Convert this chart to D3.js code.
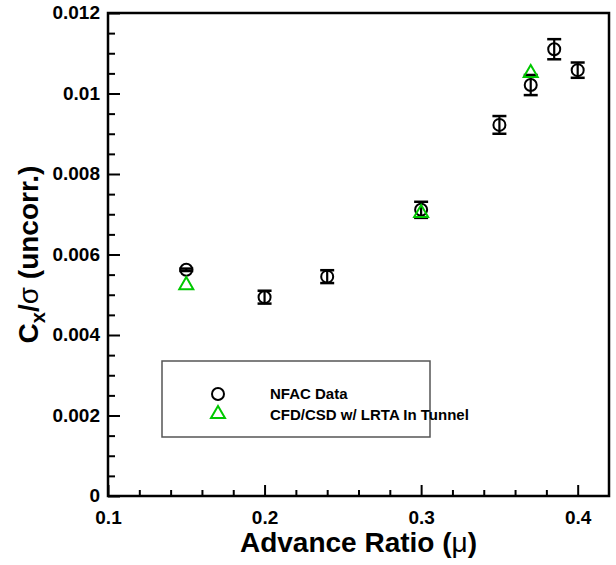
<!DOCTYPE html>
<html>
<head>
<meta charset="utf-8">
<script src="https://cdn.jsdelivr.net/npm/d3@7"></script>
<style>
  html, body { margin: 0; padding: 0; background: #fff; }
  svg { display: block; font-family: "Liberation Sans", Arial, Helvetica, sans-serif; }
</style>
</head>
<body>
<svg id="chart" width="616" height="565"></svg>
<script>
// ---- data ----
const mu = [0.15, 0.2, 0.24, 0.3, 0.35, 0.37, 0.385, 0.4];
const nfac = [0.00562, 0.00494, 0.00545, 0.00711, 0.00922, 0.01021, 0.0111, 0.01058];
const nfacErr = [0.00003, 0.00016, 0.00016, 0.0002, 0.00022, 0.00025, 0.00025, 0.00019];
const cfdMu = [0.15, 0.3, 0.37];
const cfd = [0.00524, 0.00703, 0.01051];
const xTicks = [0.1, 0.2, 0.3, 0.4];
const xTickLabels = ["0.1", "0.2", "0.3", "0.4"];
const yTicks = [0, 0.002, 0.004, 0.006, 0.008, 0.01, 0.012];
const yTickLabels = ["0", "0.002", "0.004", "0.006", "0.008", "0.01", "0.012"];
const legendLabels = ["NFAC Data", "CFD/CSD w/ LRTA In Tunnel"];

// ---- layout ----
const L = 108, R = 609, T = 13, B = 496;
const green = "#00c800";
const svg = d3.select("#chart");

const x = d3.scaleLinear().domain([0.1, 0.42]).range([L, R]);
const y = d3.scaleLinear().domain([0, 0.012]).range([B, T]);

// minor ticks
const xMinor = d3.range(0.12, 0.42, 0.02).filter(v => !xTicks.some(t => Math.abs(t - v) < 1e-9));
const yMinor = d3.range(0.0005, 0.012, 0.0005).filter(v => !yTicks.some(t => Math.abs(t - v) < 1e-9));

const gx = svg.append("g").attr("transform", `translate(0,${B})`);
gx.call(d3.axisBottom(x).tickValues(xTicks).tickFormat((d, i) => xTickLabels[i]).tickSizeInner(-11).tickSizeOuter(0).tickPadding(17));
const gxm = svg.append("g").attr("transform", `translate(0,${B})`);
gxm.call(d3.axisBottom(x).tickValues(xMinor).tickFormat("").tickSizeInner(-6).tickSizeOuter(0));

const gy = svg.append("g").attr("transform", `translate(${L},0)`);
gy.call(d3.axisLeft(y).tickValues(yTicks).tickFormat((d, i) => yTickLabels[i]).tickSizeInner(-12).tickSizeOuter(0).tickPadding(8));
const gym = svg.append("g").attr("transform", `translate(${L},0)`);
gym.call(d3.axisLeft(y).tickValues(yMinor).tickFormat("").tickSizeInner(-7).tickSizeOuter(0));

[gx, gxm, gy, gym].forEach(g => {
  g.select(".domain").remove();
  g.selectAll(".tick line").attr("stroke", "#000").attr("stroke-width", 2);
});
gx.selectAll(".tick text").attr("font-size", 19).attr("font-weight", "bold").attr("fill", "#000").attr("dy", 0);
gx.selectAll(".tick text").attr("y", 28);
gy.selectAll(".tick text").attr("font-size", 19).attr("font-weight", "bold").attr("fill", "#000").attr("dy", "0.3em");

// frame
svg.append("rect").attr("x", L).attr("y", T).attr("width", R - L).attr("height", B - T)
  .attr("fill", "none").attr("stroke", "#000").attr("stroke-width", 2.5);

// error bars
const eb = svg.append("g").attr("stroke", "#000").attr("stroke-width", 2.2);
mu.forEach((m, i) => {
  const cx = x(m), y1 = y(nfac[i] + nfacErr[i]), y2 = y(nfac[i] - nfacErr[i]);
  eb.append("line").attr("x1", cx).attr("x2", cx).attr("y1", y1).attr("y2", y2);
  eb.append("line").attr("x1", cx - 7).attr("x2", cx + 7).attr("y1", y1).attr("y2", y1).attr("stroke-width", 2.5);
  eb.append("line").attr("x1", cx - 7).attr("x2", cx + 7).attr("y1", y2).attr("y2", y2).attr("stroke-width", 2.5);
});

// circles
svg.append("g").selectAll("circle").data(mu).join("circle")
  .attr("cx", d => x(d)).attr("cy", (d, i) => y(nfac[i])).attr("r", 6)
  .attr("fill", "none").attr("stroke", "#000").attr("stroke-width", 2);

// triangles
const tri = d3.symbol().type(d3.symbolTriangle).size(85);
svg.append("g").selectAll("path").data(cfdMu).join("path")
  .attr("d", tri)
  .attr("transform", (d, i) => `translate(${x(d)},${y(cfd[i])})`)
  .attr("fill", "none").attr("stroke", green).attr("stroke-width", 2);

// legend
const lg = svg.append("g");
lg.append("rect").attr("x", 162).attr("y", 361).attr("width", 268).attr("height", 76)
  .attr("fill", "#fff").attr("stroke", "#555").attr("stroke-width", 1.5);
lg.append("circle").attr("cx", 218).attr("cy", 394).attr("r", 6)
  .attr("fill", "none").attr("stroke", "#000").attr("stroke-width", 2);
lg.append("path").attr("d", tri).attr("transform", "translate(218,414)")
  .attr("fill", "none").attr("stroke", green).attr("stroke-width", 2);
legendLabels.forEach((t, i) => {
  lg.append("text").attr("x", 270).attr("y", 399 + i * 21).text(t)
    .attr("font-size", 15).attr("font-weight", "bold").attr("fill", "#000");
});

// axis titles
const xt = svg.append("text").attr("x", (L + R) / 2).attr("y", 552).attr("text-anchor", "middle")
  .attr("font-size", 28).attr("font-weight", "bold").attr("fill", "#000");
xt.append("tspan").text("Advance Ratio (");
xt.append("tspan").attr("font-weight", "normal").text("\u03bc");
xt.append("tspan").text(")");

const yt = svg.append("text").attr("transform", `translate(38,${(T + B) / 2}) rotate(-90)`)
  .attr("text-anchor", "middle").attr("font-size", 28).attr("font-weight", "bold").attr("fill", "#000");
yt.append("tspan").text("C");
yt.append("tspan").attr("font-size", 20).attr("dy", 7).text("x");
yt.append("tspan").attr("dy", -7).text("/");
yt.append("tspan").attr("font-weight", "normal").text("\u03c3");
yt.append("tspan").text(" (uncorr.)");
</script>
</body>
</html>
